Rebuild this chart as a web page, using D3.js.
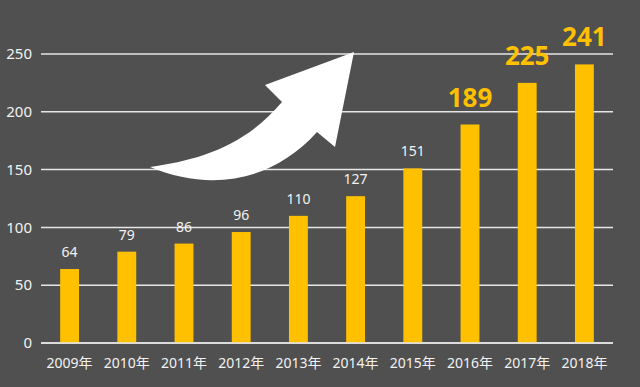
<!DOCTYPE html>
<html>
<head>
<meta charset="utf-8">
<script src="https://cdn.jsdelivr.net/npm/d3@7"></script>
<style>
  html, body { margin: 0; padding: 0; background: #505050; }
  svg { display: block; }
</style>
</head>
<body>
<svg id="chart" width="640" height="387"></svg>
<script>
// data
const years = ["2009年", "2010年", "2011年", "2012年", "2013年", "2014年", "2015年", "2016年", "2017年", "2018年"];
const values = [64, 79, 86, 96, 110, 127, 151, 189, 225, 241];
const highlight = [false, false, false, false, false, false, false, true, true, true];
const yTicks = [0, 50, 100, 150, 200, 250];

const W = 640, H = 387;
const margin = { top: 54, right: 27, bottom: 44, left: 41 };
const font = "'Noto Sans', 'Noto Sans CJK SC', sans-serif";

const svg = d3.select("#chart");
svg.append("rect").attr("width", W).attr("height", H).attr("fill", "#505050");

const x = d3.scaleBand()
    .domain(years)
    .range([margin.left, W - margin.right])
    .paddingInner(0.67)
    .paddingOuter(0.335);

const y = d3.scaleLinear()
    .domain([0, 250])
    .range([H - margin.bottom, margin.top]);

// gridlines
svg.append("g")
    .selectAll("line")
    .data(yTicks)
    .join("line")
    .attr("x1", margin.left)
    .attr("x2", W - margin.right)
    .attr("y1", d => y(d))
    .attr("y2", d => y(d))
    .attr("stroke", "#e6e6e6")
    .attr("stroke-width", 1.5);

// y tick labels
svg.append("g")
    .selectAll("text")
    .data(yTicks)
    .join("text")
    .attr("x", 32)
    .attr("y", d => y(d))
    .attr("dy", "0.35em")
    .attr("text-anchor", "end")
    .attr("fill", "#f2f2f2")
    .attr("font-family", font)
    .attr("font-size", 15)
    .text(d => d);

// arrow (decoration)
svg.append("path")
    .attr("d", "M150,167 C197,160 243,148 282,102 L265,85 L354,52 L335,147 L317,132 C272,182 210,192 150,167 Z")
    .attr("fill", "#ffffff");

// bars
svg.append("g")
    .selectAll("rect")
    .data(values)
    .join("rect")
    .attr("x", (d, i) => x(years[i]))
    .attr("width", x.bandwidth())
    .attr("y", d => y(d))
    .attr("height", d => y(0) - y(d))
    .attr("fill", "#ffc000");

// redraw baseline over bars
svg.append("line")
    .attr("x1", margin.left)
    .attr("x2", W - margin.right)
    .attr("y1", y(0))
    .attr("y2", y(0))
    .attr("stroke", "#e6e6e6")
    .attr("stroke-width", 1.5);

// value labels
svg.append("g")
    .selectAll("text")
    .data(values)
    .join("text")
    .attr("x", (d, i) => x(years[i]) + x.bandwidth() / 2)
    .attr("y", (d, i) => y(d) - (highlight[i] ? 18 : 12))
    .attr("text-anchor", "middle")
    .attr("fill", (d, i) => highlight[i] ? "#ffc000" : "#f2f2f2")
    .attr("font-family", font)
    .attr("font-weight", (d, i) => highlight[i] ? "bold" : "normal")
    .attr("font-size", (d, i) => highlight[i] ? 26 : 14)
    .text(d => d);

// x labels
svg.append("g")
    .selectAll("text")
    .data(years)
    .join("text")
    .attr("x", d => x(d) + x.bandwidth() / 2)
    .attr("y", y(0) + 25)
    .attr("text-anchor", "middle")
    .attr("fill", "#f2f2f2")
    .attr("font-family", font)
    .attr("font-size", 14)
    .text(d => d);
</script>
</body>
</html>
